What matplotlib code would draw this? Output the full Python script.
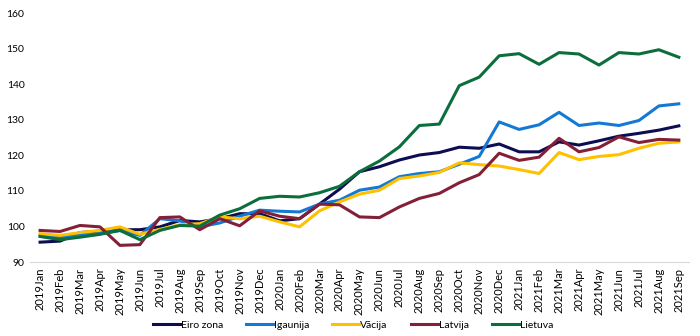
import matplotlib
matplotlib.use("Agg")
import matplotlib.pyplot as plt

plt.rcParams['font.family'] = ['Lato', 'DejaVu Sans']

months = []
for year in ["2019", "2020", "2021"]:
    for m in ["Jan", "Feb", "Mar", "Apr", "May", "Jun", "Jul", "Aug", "Sep", "Oct", "Nov", "Dec"]:
        months.append(year + m)
months = months[:33]  # 2019Jan .. 2021Sep

eiro_zona = [95.6, 95.9, 98.3, 98.7, 99.1, 99.1, 99.9, 101.7, 101.3, 102.2, 103.6,
             103.6, 101.6, 102.2, 106.3, 110.5, 115.4, 116.8, 118.7, 120.1, 120.8,
             122.3, 122.0, 123.2, 121.0, 121.0, 123.8, 122.9, 124.1, 125.4, 126.2,
             127.1, 128.3]
igaunija = [97.5, 96.9, 97.7, 98.0, 98.9, 97.5, 102.2, 101.6, 99.9, 101.0, 102.9,
            104.6, 104.3, 104.1, 106.3, 107.4, 110.2, 111.1, 114.0, 114.9, 115.4,
            117.5, 119.7, 129.4, 127.3, 128.6, 132.1, 128.4, 129.1, 128.4, 129.8,
            133.9, 134.5]
vacija = [98.0, 97.5, 98.3, 98.9, 99.9, 97.8, 99.2, 100.5, 100.8, 102.7, 102.2,
          102.9, 101.3, 99.9, 104.4, 106.9, 109.1, 110.2, 113.5, 114.2, 115.2,
          117.9, 117.4, 117.0, 116.0, 114.9, 120.8, 118.8, 119.7, 120.2, 122.0,
          123.4, 123.8]
latvija = [98.9, 98.6, 100.3, 99.9, 94.7, 94.9, 102.5, 102.7, 99.1, 102.2, 100.2,
           104.4, 102.9, 102.2, 106.3, 106.1, 102.7, 102.5, 105.5, 107.9, 109.3,
           112.3, 114.6, 120.6, 118.6, 119.5, 124.8, 121.0, 122.2, 125.2, 123.6,
           124.5, 124.3]
lietuva = [97.2, 96.3, 97.0, 97.8, 98.9, 96.3, 98.9, 100.3, 100.1, 103.2, 105.0,
           107.9, 108.5, 108.3, 109.5, 111.3, 115.4, 118.4, 122.4, 128.4, 128.8,
           139.6, 142.0, 148.0, 148.6, 145.6, 148.9, 148.5, 145.4, 148.9, 148.5,
           149.7, 147.6]

series = [
    ("Eiro zona", eiro_zona, "#0d0d52"),
    ("Igaunija", igaunija, "#1479d4"),
    ("Vācija", vacija, "#ffc000"),
    ("Latvija", latvija, "#832038"),
    ("Lietuva", lietuva, "#0b6e3c"),
]

fig = plt.figure(figsize=(7, 3.36), dpi=100)
ax = fig.add_axes([0.043, 0.22, 0.941, 0.741])

x = list(range(len(months)))
for name, vals, col in series:
    ax.plot(x, vals, color=col, linewidth=2.2, label=name)

ax.set_xlim(-0.5, len(months) - 0.5)
ax.set_ylim(90, 160)
ax.set_yticks(range(90, 161, 10))
ax.set_xticks(x)
ax.set_xticklabels(months, rotation=90, fontsize=8)
ax.tick_params(axis='y', labelsize=7.5, length=0, pad=4)
ax.tick_params(axis='x', length=0, pad=4)

for side in ["top", "right", "left"]:
    ax.spines[side].set_visible(False)
ax.spines["bottom"].set_color("#d9d9d9")
ax.spines["bottom"].set_linewidth(0.8)

ax.legend(loc="lower center", bbox_to_anchor=(0.49, -0.31), ncol=5, frameon=False,
          fontsize=7.5, handlelength=2.6, handletextpad=0.1, columnspacing=2.2)

fig.savefig("out.png", dpi=100)
